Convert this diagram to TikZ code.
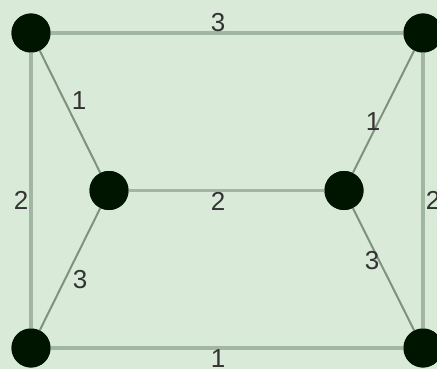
\documentclass[tikz,border=0pt]{standalone}
\usepackage{fontspec}
\setmainfont{Liberation Sans}
\definecolor{bg}{HTML}{D9EAD8}
\definecolor{edgec}{HTML}{A2B7A2}
\definecolor{diagc}{HTML}{7F927F}
\definecolor{vert}{HTML}{001500}
\definecolor{lab}{HTML}{333333}
\begin{document}
\begin{tikzpicture}[x=1pt,y=-1pt,
  vtx/.style={circle,fill=vert,minimum size=39pt,inner sep=0pt},
  edg/.style={draw=edgec,line width=3.5pt},
  dedg/.style={draw=diagc,line width=2pt},
  lbl/.style={text=lab,font=\fontsize{26}{26}\selectfont,inner sep=0pt}]
\fill[bg] (0,0) rectangle (437,369);
\useasboundingbox (0,0) rectangle (437,369);
\node[vtx] (tl) at (31,33) {};
\node[vtx] (tr) at (423,33) {};
\node[vtx] (ml) at (109,190.5) {};
\node[vtx] (mr) at (344,190.5) {};
\node[vtx] (bl) at (31,348) {};
\node[vtx] (br) at (423,348) {};
\path[edg] (tl.center) -- (tr.center);
\path[edg] (tl.center) -- (bl.center);
\path[edg] (tr.center) -- (br.center);
\path[edg] (bl.center) -- (br.center);
\path[edg] (ml.center) -- (mr.center);
\path[dedg] (tl.center) -- (ml.center);
\path[dedg] (ml.center) -- (bl.center);
\path[dedg] (tr.center) -- (mr.center);
\path[dedg] (mr.center) -- (br.center);
\foreach \n in {tl,tr,ml,mr,bl,br} \fill[vert] (\n) circle (19.5pt);
\node[lbl] (l1) at (218,23) {3};
\node[lbl] (l2) at (79,101) {1};
\node[lbl] (l3) at (21,200) {2};
\node[lbl] (l4) at (218,201) {2};
\node[lbl] (l5) at (373,122) {1};
\node[lbl] (l6) at (433,200) {2};
\node[lbl] (l7) at (80,280) {3};
\node[lbl] (l8) at (372,261) {3};
\node[lbl] (l9) at (218,359) {1};
\end{tikzpicture}
\end{document}
